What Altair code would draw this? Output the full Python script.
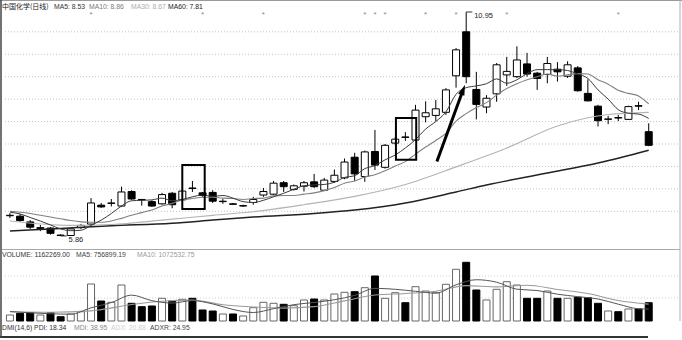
import altair as alt
import pandas as pd

# ---------------- data ----------------
OPEN = [6.32, 6.31, 6.18, 6.03, 6.04, 5.88, 5.87, 6.05, 6.13, 6.56,
        6.60, 6.54, 6.87, 6.69, 6.64, 6.59, 6.83, 6.68, 6.95, 6.84,
        6.85, 6.64, 6.59, 6.54, 6.62, 6.79, 6.81, 7.07, 6.92, 6.99,
        7.09, 6.90, 7.10, 7.18, 7.65, 7.21, 7.78, 7.42, 7.97, 8.11,
        8.04, 8.57, 8.60, 8.67, 9.50, 10.50, 9.19, 8.79, 9.09, 9.52,
        9.48, 9.77, 9.56, 9.53, 9.65, 9.49, 9.68, 9.10, 8.81, 8.51,
        8.55, 8.51, 8.82, 8.23]
HIGH = [6.38, 6.36, 6.22, 6.11, 6.06, 5.90, 6.04, 6.13, 6.72, 6.61,
        6.70, 6.98, 6.90, 6.70, 6.67, 6.84, 6.86, 6.93, 7.11, 6.86,
        6.90, 6.70, 6.61, 6.57, 6.75, 6.95, 7.11, 7.11, 7.03, 7.11,
        7.27, 7.18, 7.37, 7.62, 7.75, 7.80, 8.27, 7.95, 8.11, 8.22,
        8.84, 8.92, 8.95, 9.22, 10.13, 10.95, 9.59, 9.06, 9.79, 9.93,
        10.17, 10.02, 9.59, 9.93, 9.81, 9.83, 9.72, 9.42, 8.84, 8.59,
        8.61, 8.82, 8.91, 8.42]
LOW = [6.27, 6.18, 6.02, 5.97, 5.89, 5.86, 5.86, 6.02, 6.11, 6.50,
       6.53, 6.52, 6.68, 6.55, 6.52, 6.57, 6.49, 6.65, 6.86, 6.75,
       6.61, 6.59, 6.57, 6.52, 6.57, 6.75, 6.79, 6.86, 6.89, 6.87,
       6.95, 6.88, 7.07, 7.15, 7.11, 7.09, 7.36, 7.39, 7.93, 8.02,
       8.02, 8.44, 8.47, 8.61, 9.23, 9.33, 8.51, 8.65, 8.91, 9.27,
       9.45, 9.48, 9.18, 9.33, 9.37, 9.45, 9.14, 8.92, 8.35, 8.40,
       8.47, 8.50, 8.72, 7.90]
CLOSE = [6.33, 6.21, 6.06, 6.05, 5.92, 5.87, 6.02, 6.10, 6.61, 6.52,
         6.61, 6.86, 6.70, 6.68, 6.54, 6.80, 6.57, 6.88, 6.94, 6.78,
         6.65, 6.65, 6.58, 6.55, 6.69, 6.87, 7.06, 6.98, 7.00, 7.07,
         6.98, 7.13, 7.24, 7.54, 7.27, 7.77, 7.47, 7.92, 8.06, 8.10,
         8.72, 8.66, 8.75, 9.18, 10.09, 9.48, 8.85, 8.99, 9.75, 9.60,
         9.86, 9.54, 9.44, 9.78, 9.59, 9.75, 9.16, 8.93, 8.48, 8.52,
         8.54, 8.80, 8.81, 7.92]
# volume, thousand shares
VOLUME = [381, 489, 527, 381, 527, 273, 445, 590, 2350, 1270,
          1187, 2286, 1124, 908, 953, 1441, 1270, 1378, 1441, 699,
          635, 445, 445, 318, 845, 1187, 1124, 1060, 972, 1334,
          1397, 1334, 1715, 1822, 1861, 2115, 2858, 1441, 1797, 1162,
          2178, 1905, 1797, 2330, 3283, 3727, 1969, 1334, 2013, 2496,
          2286, 1441, 1441, 1905, 1441, 1441, 1505, 1480, 1124, 635,
          590, 762, 762, 1162.269]

MA5 = [6.40, 6.36, 6.28, 6.20, 6.11, 6.02, 5.98, 5.99, 6.10, 6.22,
       6.37, 6.54, 6.66, 6.67, 6.68, 6.72, 6.66, 6.69, 6.75, 6.79,
       6.76, 6.78, 6.72, 6.64, 6.62, 6.67, 6.75, 6.83, 6.92, 7.00,
       7.02, 7.03, 7.08, 7.19, 7.23, 7.39, 7.46, 7.59, 7.70, 7.86,
       8.05, 8.29, 8.46, 8.68, 9.08, 9.23, 9.27, 9.32, 9.43, 9.33,
       9.41, 9.55, 9.64, 9.64, 9.64, 9.62, 9.54, 9.44, 9.18, 8.97,
       8.73, 8.65, 8.63, 8.53]
MA10 = [6.42, 6.40, 6.37, 6.33, 6.29, 6.25, 6.21, 6.18, 6.17, 6.17,
        6.20, 6.26, 6.33, 6.39, 6.45, 6.54, 6.60, 6.68, 6.71, 6.74,
        6.74, 6.72, 6.71, 6.69, 6.71, 6.72, 6.77, 6.78, 6.78, 6.81,
        6.84, 6.89, 6.96, 7.06, 7.11, 7.20, 7.25, 7.34, 7.45, 7.55,
        7.72, 7.88, 8.03, 8.19, 8.47, 8.64, 8.78, 8.89, 9.06, 9.21,
        9.32, 9.41, 9.48, 9.54, 9.49, 9.52, 9.55, 9.54, 9.41, 9.31,
        9.17, 9.10, 9.04, 8.86]
MA30_DAY = [0, 6, 10, 15, 20, 24, 29, 34, 39, 44, 49, 54, 59, 63]
MA30 = [6.20, 6.10, 6.12, 6.22, 6.33, 6.41, 6.57, 6.76, 7.03, 7.43, 7.86, 8.36, 8.62, 8.67]
MA60_DAY = [0, 5, 10, 16, 20, 24, 30, 34, 39, 44, 47, 53, 58, 63]
MA60 = [5.97, 6.03, 6.09, 6.15, 6.22, 6.29, 6.37, 6.45, 6.61, 6.86, 7.02, 7.29, 7.52, 7.81]

VMA5_DAY = [0, 2, 4, 6, 8, 10, 12, 14, 16, 18, 20, 22, 24, 26, 28, 30, 32,
            34, 36, 38, 40, 42, 44, 46, 48, 50, 52, 54, 56, 58, 60, 62, 63]
VMA5 = [600, 520, 461, 431, 837, 1168, 1643, 1292, 1139, 1297, 1085, 733, 538,
        784, 1038, 1177, 1350, 1626, 2074, 2014, 1887, 1768, 2299, 2621, 2465,
        2020, 1935, 1703, 1547, 1398, 1067, 775, 757]
VMA10_DAY = [0, 4, 8, 9, 12, 15, 18, 21, 24, 27, 30, 33, 36, 39, 42, 45, 48,
             51, 54, 57, 60, 63]
VMA10 = [590, 560, 640, 723, 1043, 1255, 1326, 1029, 892, 820, 913, 1279, 1647,
         1750, 1894, 2248, 2170, 2268, 2005, 1745, 1300, 1073]

GRID_PRICE = [10.50, 9.99, 9.48, 8.97, 8.46, 7.95, 7.44, 6.93, 6.42]
GRID_VOL = [2857, 1460]

BOX_DAY0 = [17.0, 38.07]
BOX_DAY1 = [19.21, 40.07]
BOX_TOP = [7.47, 8.54]
BOX_BOTTOM = [6.47, 7.59]
ARROW_DAY = [42.11, 44.66]
ARROW_PRICE = [7.55, 9.16]
MARK_DAY = [8, 19, 25, 35, 36, 37, 41, 44, 49, 60]
EXTREME_DAY = [45, 5]
EXTREME_PRICE = [10.95, 5.86]
EXTREME_TEXT = ["10.95", "5.86"]

MAIN_HEADER = ["中国化学(日线)", "MA5: 8.53", "MA10: 8.86", "MA30: 8.67", "MA60: 7.81"]
VOL_HEADER = ["VOLUME: 1162269.00", "MA5: 756899.19", "MA10: 1072532.75"]
DMI_HEADER = ["DMI(14,6) PDI: 18.34", "MDI: 38.95", "ADX: 20.88", "ADXR: 24.95"]

# ---------------- scales ----------------
xs = alt.Scale(domain=[-0.486, 65.79], nice=False, zero=False)
ps = alt.Scale(domain=[3.4955, 11.2227], nice=False, zero=False)
vs = alt.Scale(domain=[-1206.5, 20383.5], nice=False, zero=False)


def X(f):
    return alt.X(f"{f}:Q", scale=xs, axis=None)


def PY(f):
    return alt.Y(f"{f}:Q", scale=ps, axis=None)


def VY(f):
    return alt.Y(f"{f}:Q", scale=vs, axis=None)


LATIN = "Liberation Sans"
CJK = "Noto Sans CJK SC"

df = pd.DataFrame({"d": list(range(len(OPEN))), "o": OPEN, "h": HIGH, "l": LOW,
                   "c": CLOSE, "v": VOLUME})
df["base"] = 0

up = "datum.c >= datum.o"

grid = alt.Chart(pd.DataFrame({"p": GRID_PRICE})).mark_rule(
    color="#c4c4c4", strokeWidth=1, strokeDash=[1, 2]
).encode(y=PY("p"), x=alt.value(5), x2=alt.value(678))

wicks = alt.Chart(df).mark_rule(color="black", strokeWidth=1).encode(
    x=X("d"), y=PY("l"), y2="h:Q")
bodies = alt.Chart(df).mark_bar(size=7, stroke="black", strokeWidth=1).encode(
    x=X("d"), y=PY("o"), y2="c:Q",
    fill=alt.condition(up, alt.value("white"), alt.value("black")))


def line(days, vals, color, width, ysc=PY, interp="monotone"):
    return alt.Chart(pd.DataFrame({"d": days, "p": vals})).mark_line(
        color=color, strokeWidth=width, interpolate=interp
    ).encode(x=X("d"), y=ysc("p"))


ma60 = line(MA60_DAY, MA60, "#222222", 1.5)
ma30 = line(MA30_DAY, MA30, "#b4b4b4", 1.2)
ma10 = line(list(range(64)), MA10, "#808080", 1.1)
ma5 = line(list(range(64)), MA5, "#3a3a3a", 1.0)

boxes = alt.Chart(pd.DataFrame({"a": BOX_DAY0, "b": BOX_DAY1, "t": BOX_TOP, "u": BOX_BOTTOM})).mark_rect(
    fillOpacity=0, stroke="black", strokeWidth=2
).encode(x=X("a"), x2="b:Q", y=PY("t"), y2="u:Q")

arrow_df = pd.DataFrame({"d": ARROW_DAY, "p": ARROW_PRICE})
arrow_line = alt.Chart(arrow_df).mark_line(color="black", strokeWidth=3).encode(
    x=X("d"), y=PY("p"))
arrow_head = alt.Chart(arrow_df.iloc[[1]]).mark_point(
    shape="M0,-1L0.5,0.65L-0.5,0.65Z", size=170, filled=True, color="black",
    opacity=1, angle=20
).encode(x=X("d"), y=PY("p"))

ext_df = pd.DataFrame({"d": EXTREME_DAY, "p": EXTREME_PRICE, "t": EXTREME_TEXT})
ext_df["d2"] = ext_df["d"] + 0.6
leaders = alt.Chart(ext_df).mark_rule(color="#333333", strokeWidth=1).encode(
    x=X("d"), x2="d2:Q", y=PY("p"))
ext_labels = alt.Chart(ext_df).mark_text(
    align="left", baseline="middle", dx=8, dy=4, fontSize=7.5, font=LATIN, color="#222222"
).encode(x=X("d"), y=PY("p"), text="t:N")

marks = alt.Chart(pd.DataFrame({"d": MARK_DAY, "t": ["*"] * len(MARK_DAY)})).mark_text(
    fontSize=8, font=LATIN, color="#8a8a8a", baseline="middle"
).encode(x=X("d"), y=alt.value(15), text="t:N")

price_layer = alt.layer(grid, wicks, bodies, ma60, ma30, ma10, ma5, boxes,
                        arrow_line, arrow_head, leaders, ext_labels, marks)

# ---------------- volume panel ----------------
vgrid = alt.Chart(pd.DataFrame({"v": GRID_VOL})).mark_rule(
    color="#d0d0d0", strokeWidth=1, strokeDash=[1, 2]
).encode(y=VY("v"), x=alt.value(5), x2=alt.value(678))
vbars = alt.Chart(df).mark_bar(size=7, strokeWidth=1).encode(
    x=X("d"), y=VY("v"), y2="base:Q",
    fill=alt.condition(up, alt.value("white"), alt.value("black")),
    stroke=alt.condition(up, alt.value("#666666"), alt.value("black")))
vma10 = line(VMA10_DAY, VMA10, "#9a9a9a", 1.1, VY)
vma5 = line(VMA5_DAY, VMA5, "#555555", 1.0, VY)
vol_layer = alt.layer(vgrid, vbars, vma10, vma5)

# ---------------- frame and headers ----------------
one = pd.DataFrame({"a": [0]})


def hrule(y, x1, x2, color, w):
    return alt.Chart(one).mark_rule(color=color, strokeWidth=w).encode(
        y=alt.value(y), x=alt.value(x1), x2=alt.value(x2))


def vrule(x, y1, y2, color, w):
    return alt.Chart(one).mark_rule(color=color, strokeWidth=w).encode(
        x=alt.value(x), y=alt.value(y1), y2=alt.value(y2))


frame = [
    hrule(0.5, 0, 682, "#9a9a9a", 1),
    hrule(249.5, 2, 680, "#a8a8a8", 1),
    hrule(337, 0, 648, "#333333", 2),
    vrule(1, 0, 338, "#444444", 1.5),
    vrule(680, 0, 321, "#b0b0b0", 1),
]


def header(texts, xs_px, colors, y, fonts):
    out = []
    for t, xp, col, fnt in zip(texts, xs_px, colors, fonts):
        size = 7.0 if fnt == CJK else 6.8
        out.append(alt.Chart(pd.DataFrame({"t": [t]})).mark_text(
            align="left", baseline="middle", fontSize=size, font=fnt, color=col
        ).encode(x=alt.value(xp), y=alt.value(y), text="t:N"))
    return out


texts = []
texts += header(MAIN_HEADER, [2, 54, 89, 131, 168],
                ["#222222", "#333333", "#7a7a7a", "#ababab", "#222222"], 6.5,
                [CJK, LATIN, LATIN, LATIN, LATIN])
texts += header(VOL_HEADER, [2, 76, 137], ["#333333", "#444444", "#9a9a9a"], 255,
                [LATIN] * 3)
texts += header(DMI_HEADER, [2, 74, 111, 150],
                ["#333333", "#8a8a8a", "#cfcfcf", "#444444"], 328, [LATIN] * 4)

deco = alt.layer(*frame, *texts)

chart = alt.layer(price_layer, vol_layer, deco).resolve_scale(
    y="independent"
).properties(
    width=682, height=340, padding=0, autosize=alt.AutoSizeParams(type="none"),
    background="white"
).configure_view(strokeWidth=0)

chart.save("out.html", embed_options={"renderer": "svg", "actions": False})
